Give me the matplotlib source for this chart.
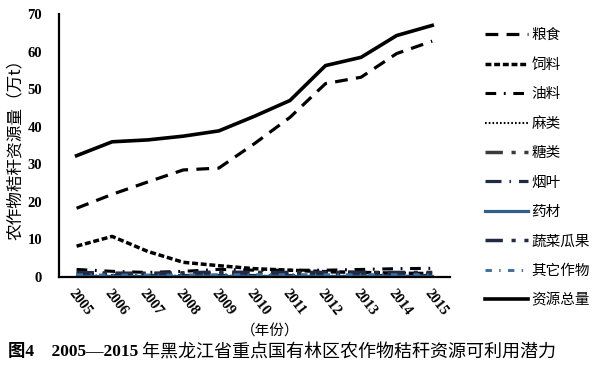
import matplotlib
matplotlib.use('Agg')
import matplotlib.pyplot as plt
import numpy as np

plt.rcParams['font.family'] = ['Liberation Serif', 'Noto Sans CJK SC', 'DejaVu Sans']

years = ['2005', '2006', '2007', '2008', '2009', '2010', '2011', '2012', '2013', '2014', '2015']

series_names = ['粮食', '饲料', '油料', '麻类', '糖类', '烟叶', '药材', '蔬菜瓜果', '其它作物', '资源总量']

grain = [18.3, 22.0, 25.3, 28.5, 29.0, 35.5, 42.5, 51.5, 53.2, 59.5, 62.8]
feed = [8.2, 10.8, 6.8, 3.9, 3.0, 2.2, 1.8, 1.4, 1.2, 1.0, 0.9]
oil = [2.0, 1.5, 1.2, 1.5, 2.0, 1.8, 1.8, 1.8, 2.0, 2.2, 2.3]
hemp = [0.4, 0.3, 0.3, 0.3, 0.3, 0.3, 0.3, 0.3, 0.3, 0.3, 0.3]
sugar = [1.0, 0.9, 0.8, 0.8, 0.9, 0.9, 0.9, 0.9, 0.9, 0.9, 0.9]
tobacco = [0.5, 0.5, 0.5, 0.5, 0.5, 0.5, 0.5, 0.5, 0.5, 0.5, 0.5]
herbs = [0.2, 0.2, 0.2, 0.2, 0.2, 0.2, 0.2, 0.2, 0.2, 0.2, 0.2]
veg = [1.2, 1.0, 1.0, 1.1, 1.3, 1.2, 1.2, 1.2, 1.2, 1.2, 1.2]
other = [0.6, 0.5, 0.5, 0.5, 0.6, 0.6, 0.6, 0.6, 0.6, 0.6, 0.6]
total = [32.3, 36.0, 36.5, 37.5, 38.9, 42.8, 47.0, 56.3, 58.5, 64.3, 67.0]

values = [grain, feed, oil, hemp, sugar, tobacco, herbs, veg, other, total]

# line styles per series: (colour, width, dash pattern)
styles = [
    ('black', 2.3, (0, (4, 2.6))),
    ('black', 2.5, (0, (1.7, 0.8))),
    ('black', 2.2, (0, (3.5, 2.5, 0.6, 2.5))),
    ('black', 1.5, (0, (0.8, 1.0))),
    ('#3a3a3a', 2.5, (0, (5, 2.5, 1.2, 2.5))),
    ('#1f2a44', 2.3, (0, (5, 2.5, 0.5, 2.5))),
    ('#2f5f8f', 2.3, '-'),
    ('#1f2a44', 2.5, (0, (5, 2.5, 1.2, 2.5))),
    ('#3f6f9f', 2.1, (0, (2.2, 2.5, 0.5, 2.5))),
    ('black', 2.6, '-'),
]

fig = plt.figure(figsize=(6, 3.82), dpi=100)
ax = fig.add_axes([0.098, 0.275, 0.652, 0.688])

x = np.arange(len(years))
for name, vals, (c, lw, ls) in zip(series_names, values, styles):
    ax.plot(x, vals, color=c, lw=lw, linestyle=ls, label=name)

ax.set_xlim(-0.5, len(years) - 0.5)
ax.set_ylim(0, 70)
ax.set_yticks(range(0, 71, 10))
ax.set_xticks(x)
ax.set_xticklabels(years, rotation=-52, ha='left', va='top', rotation_mode='anchor',
                   fontsize=10.5, fontweight='bold')
for lab in ax.get_yticklabels():
    lab.set_fontsize(10.5)
    lab.set_fontweight('bold')
ax.tick_params(axis='both', length=0)
ax.tick_params(axis='y', pad=12)
ax.tick_params(axis='x', pad=7)
for s in ['top', 'right']:
    ax.spines[s].set_visible(False)
ax.spines['left'].set_linewidth(1.6)
ax.spines['bottom'].set_linewidth(1.6)

ax.set_ylabel('农作物秸秆资源量（万t）', family=['Noto Sans CJK SC'], fontsize=12, labelpad=3)
fig.text(0.45, 0.132, '（年份）', family=['Noto Sans CJK SC'], fontsize=10.5, ha='center', va='center')

fig.legend(loc='upper left', bbox_to_anchor=(0.797, 0.945), frameon=False,
           prop={'family': 'Noto Sans CJK SC', 'size': 10.5},
           handlelength=2.9, handletextpad=0.25, labelspacing=1.06, borderpad=0)

# caption: bold figure number, then plain title
cap1 = fig.text(0.013, 0.078, '图4　2005—2015', family=['Liberation Serif', 'Noto Sans CJK SC'],
                fontsize=12.5, fontweight='bold', ha='left', va='center')
ax.annotate(' 年黑龙江省重点国有林区农作物秸秆资源可利用潜力', xy=(1, 0.5), xycoords=cap1,
            family=['Noto Sans CJK SC'], fontsize=13, fontweight='medium',
            ha='left', va='center', annotation_clip=False)

fig.savefig('out.png', dpi=100)
